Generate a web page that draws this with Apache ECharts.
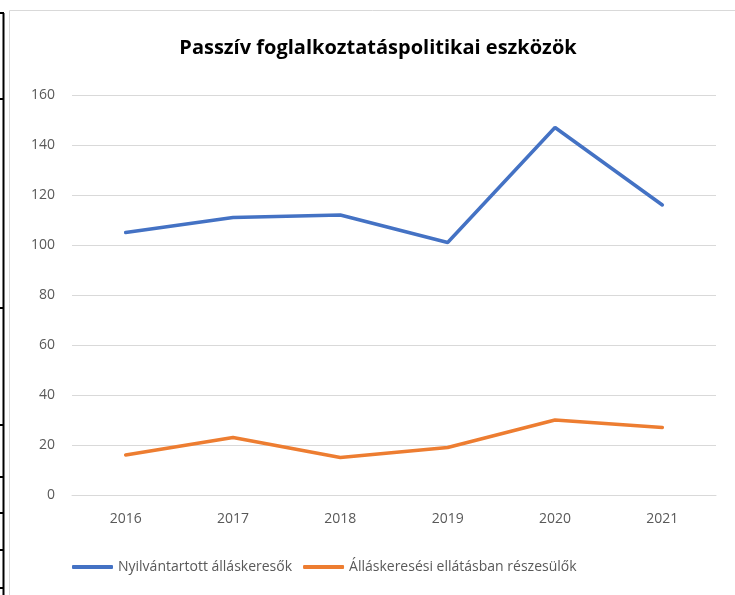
<!DOCTYPE html>
<html>
<head>
<meta charset="utf-8">
<script src="https://cdn.jsdelivr.net/npm/echarts@6/dist/echarts.min.js"></script>
<style>
  html, body { margin: 0; padding: 0; background: #fff; }
  #main { width: 735px; height: 595px; }
</style>
</head>
<body>
<div id="main"></div>
<script>
// adatok
var evek = ['2016', '2017', '2018', '2019', '2020', '2021'];
var nyilvantartott = [105, 111, 112, 101, 147, 116];
var ellatott = [16, 23, 15, 19, 30, 27];
var yTicks = [0, 160, 20];  // min, max, interval

var myChart = echarts.init(document.getElementById('main'));

// cellahatarok a bal szelen (tablazat maradvanya)
var cellTicks = [13, 99, 308, 425, 477, 513, 550, 588];
var graphics = [
  { type: 'rect', shape: { x: 9.5, y: 10.5, width: 740, height: 600 },
    style: { fill: 'none', stroke: '#d9d9d9', lineWidth: 1 }, z: -1 },
  { type: 'line', shape: { x1: 3.5, y1: 13, x2: 3.5, y2: 595 },
    style: { stroke: '#000', lineWidth: 2 } }
];
cellTicks.forEach(function (y) {
  graphics.push({ type: 'line', shape: { x1: 0, y1: y, x2: 4, y2: y },
    style: { stroke: '#000', lineWidth: 2 } });
});

var option = {
  animation: false,
  textStyle: { fontFamily: 'Open Sans' },
  title: {
    text: 'Passzív foglalkoztatáspolitikai eszközök',
    left: 373, top: 33, textAlign: 'center',
    textStyle: { fontSize: 20, fontWeight: 'bold', color: '#000', fontFamily: 'Open Sans' }
  },
  graphic: graphics,
  grid: { left: 72, right: 19, top: 95, bottom: 100 },
  xAxis: {
    type: 'category',
    data: evek,
    boundaryGap: true,
    axisLine: { show: true, lineStyle: { color: '#d9d9d9' } },
    axisTick: { show: false },
    axisLabel: { color: '#595959', fontSize: 14, margin: 17 }
  },
  yAxis: {
    type: 'value',
    min: yTicks[0], max: yTicks[1], interval: yTicks[2],
    axisLine: { show: false },
    axisTick: { show: false },
    axisLabel: { color: '#595959', fontSize: 14, margin: 17 },
    splitLine: { lineStyle: { color: '#d9d9d9', width: 1 } }
  },
  legend: {
    left: 72, top: 560, padding: 0,
    icon: 'roundRect',
    itemWidth: 41, itemHeight: 4, itemGap: 11,
    textStyle: { color: '#595959', fontSize: 14 },
    data: ['Nyilvántartott álláskeresők', 'Álláskeresési ellátásban részesülők']
  },
  series: [
    {
      name: 'Nyilvántartott álláskeresők',
      type: 'line',
      data: nyilvantartott,
      symbol: 'none',
      lineStyle: { color: '#4472c4', width: 3.5, cap: 'round' },
      itemStyle: { color: '#4472c4' }
    },
    {
      name: 'Álláskeresési ellátásban részesülők',
      type: 'line',
      data: ellatott,
      symbol: 'none',
      lineStyle: { color: '#ed7d31', width: 3.5, cap: 'round' },
      itemStyle: { color: '#ed7d31' }
    }
  ]
};
myChart.setOption(option);
</script>
</body>
</html>
